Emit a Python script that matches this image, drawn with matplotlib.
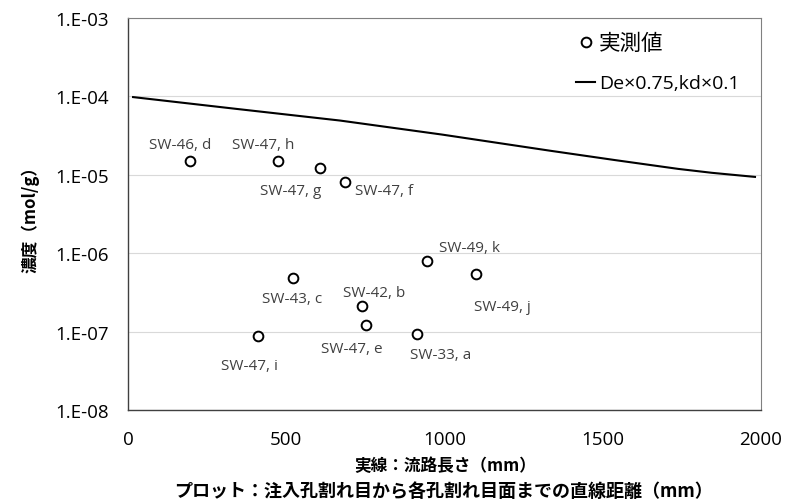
import numpy as np
import matplotlib
matplotlib.use("Agg")
import matplotlib.pyplot as plt
from matplotlib.ticker import FuncFormatter, FixedLocator

plt.rcParams['font.family'] = ['Open Sans', 'Noto Sans CJK JP', 'DejaVu Sans']

# 実測値 (直線距離 mm, 濃度 mol/g)
pt_x = [196, 474, 607, 686, 945, 1100, 521, 739, 752, 913, 410]
pt_y = [1.5e-5, 1.5e-5, 1.23e-5, 8.1e-6, 7.9e-7, 5.4e-7, 4.8e-7, 2.1e-7, 1.2e-7, 9.4e-8, 8.9e-8]
pt_lab = ["SW-46, d", "SW-47, h", "SW-47, g", "SW-47, f", "SW-49, k", "SW-49, j",
          "SW-43, c", "SW-42, b", "SW-47, e", "SW-33, a", "SW-47, i"]
# ラベル中心のずれ (pixels)
lab_off = [(-10, 16), (-15, 16), (-29, -23), (39, -9), (42, 14), (26, -32),
           (-1, -20), (12, 14), (-14, -23), (24, -21), (-8, -30)]

# 計算値 (流路長さ mm)
ln_x = [16, 341, 670, 992, 1333, 1539, 1738, 1845, 1981]
ln_y = [9.8e-5, 6.94e-5, 4.92e-5, 3.26e-5, 2.03e-5, 1.54e-5, 1.19e-5, 1.06e-5, 9.4e-6]

fig = plt.figure(figsize=(7.85, 5.02), dpi=100)
ax = fig.add_axes([128/785, 1-411/502, 633/785, 392/502])

ax.plot(pt_x, pt_y, ls="none", marker="o", ms=7, mfc="white", mec="black", mew=1.4,
        label="実測値", zorder=3)
ax.plot(ln_x, ln_y, color="black", lw=1.5, label="De×0.75,kd×0.1", zorder=2)

for x, y, t, (dx, dy) in zip(pt_x, pt_y, pt_lab, lab_off):
    ax.annotate(t, (x, y), xytext=(dx, dy), textcoords="offset pixels",
                fontsize=11, color="#404040", ha="center", va="center")

ax.set_yscale("log")
ax.set_xlim(0, 2000)
ax.set_ylim(1e-8, 1e-3)
ax.set_xticks([0, 500, 1000, 1500, 2000])
ax.yaxis.set_major_locator(FixedLocator([1e-8, 1e-7, 1e-6, 1e-5, 1e-4, 1e-3]))
ax.yaxis.set_minor_locator(FixedLocator([]))
ax.yaxis.set_major_formatter(FuncFormatter(lambda v, p: "1.E%03d" % int(round(np.log10(v)))))
ax.tick_params(length=0, labelsize=13.5)
ax.tick_params(axis="y", pad=14)
ax.tick_params(axis="x", pad=14.5)
ax.grid(axis="y", color="#d9d9d9", lw=0.8)
ax.set_axisbelow(True)
for s in ["top", "right"]:
    ax.spines[s].set_color("#808080")
    ax.spines[s].set_linewidth(0.8)
for s in ["left", "bottom"]:
    ax.spines[s].set_color("#404040")
    ax.spines[s].set_linewidth(1.0)

ax.set_ylabel("濃度（mol/g）", fontsize=12, fontweight="bold", labelpad=11,
              family=['Noto Sans CJK JP', 'DejaVu Sans'])
fig.text(445/785, 1-466/502, "実線：流路長さ（mm）", fontsize=12, fontweight="bold",
         ha="center", va="center", family=['Noto Sans CJK JP', 'DejaVu Sans'])
fig.text(443/785, 1-492/502, "プロット：注入孔割れ目から各孔割れ目面までの直線距離（mm）",
         fontsize=13, fontweight="bold", ha="center", va="center",
         family=['Noto Sans CJK JP', 'DejaVu Sans'])

leg = ax.legend(loc="upper left", bbox_to_anchor=((576-128)/633, 1-(34-19)/392),
                frameon=False, fontsize=14, handlelength=1.0, handletextpad=0.2,
                labelspacing=1.05, borderaxespad=0, borderpad=0)
leg.get_texts()[0].set_fontsize(15.5)

fig.savefig("out.png", dpi=100)
